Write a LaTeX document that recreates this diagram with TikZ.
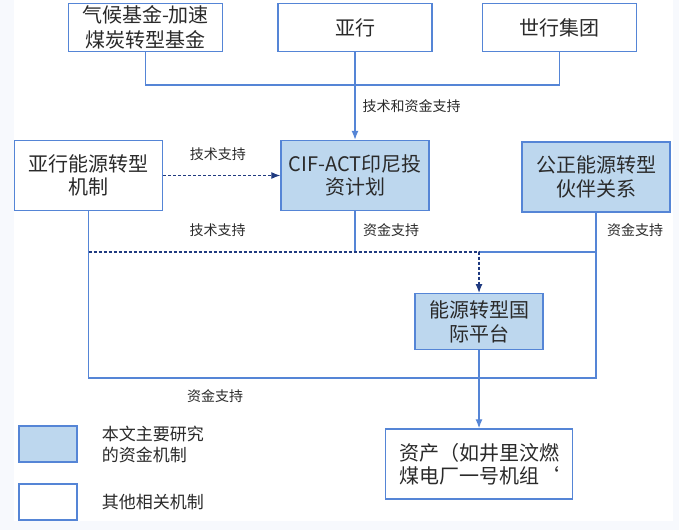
\documentclass[tikz,border=0pt]{standalone}
\usepackage{fontspec}
\setmainfont{Noto Sans CJK SC}
\usetikzlibrary{arrows.meta,positioning}

\definecolor{edgeblue}{HTML}{5585D6}
\definecolor{mainfill}{HTML}{BDD7EE}
\definecolor{techblue}{HTML}{1F3A80}
\definecolor{inktext}{HTML}{2A2A2A}
\definecolor{paper}{HTML}{F7F9FD}

\begin{document}
\begin{tikzpicture}[
            x = 1pt, y = -1pt,
            > = {Latex[length=9pt,width=7pt]}, % arrow head style
            font = \fontsize{20}{23.5}\selectfont,
            text = inktext,
            mech/.style = {draw=edgeblue, line width=1.4pt, fill=white, align=center,
                           inner sep=0pt, minimum width=148pt, minimum height=70pt},
            mainmech/.style = {mech, fill=mainfill},
            topmech/.style = {mech, minimum width=154pt, minimum height=48pt,
                              font=\fontsize{20}{25}\selectfont},
            flow/.style = {draw=edgeblue, line width=1.3pt},
            tech/.style = {draw=techblue, line width=1.2pt, dash pattern=on 3pt off 2pt},
            lbl/.style = {font=\fontsize{14}{16}\selectfont, inner sep=0pt},
            keytext/.style = {font=\fontsize{17}{21}\selectfont, align=left, inner sep=0pt}
        ]

	% page
	\useasboundingbox (0,0) rectangle (679,530);
	\fill[paper] (0,0) rectangle (679,530);
	\fill[white] (14,0) rectangle (673,521);

	% donors
	\node[topmech] (ccf) at (145.5,27.5) {气候基金-加速\\煤炭转型基金};
	\node[topmech] (adb) [right of=ccf, node distance=209.5pt] {亚行};
	\node[topmech] (wbg) [right of=adb, node distance=204.5pt] {世行集团};

	% mechanisms
	\node[mech] (etm) at (88.7,175.5) {亚行能源转型\\机制};
	\node[mainmech] (cif) [right of=etm, node distance=266.3pt] {CIF-ACT印尼投\\资计划};
	\node[mainmech] (jetp) at (596,177) {公正能源转型\\伙伴关系};
	\node[mainmech, minimum width=128pt, minimum height=56pt] (etp) at (479,321.7) {能源转型国\\际平台};
	\node[mech, minimum width=187pt] (asset) [below of=etp, node distance=142.3pt] {资产（如井里汶燃\\煤电厂一号机组\symbol{96}};

	% junctions
	\coordinate (bus) at (355,85);
	\coordinate (tjl) at (88.7,252);
	\coordinate (tjc) at (355,252);
	\coordinate (tjr) at (479,252);
	\coordinate (low) at (88.7,378);

	% donor support
	\draw[flow] (ccf.south) |- (bus) -| (wbg.south);
	\draw[flow,->] (adb.south) -- (cif.north)
		node[lbl, pos=0.616, anchor=west, xshift=7pt] {技术和资金支持};

	% funding lines
	\draw[flow] (etm.south) |- (low) -| (jetp.south);
	\draw[flow] (jetp.south) |- (tjr);
	\draw[flow] (cif.south) -- (tjc);
	\draw[flow,->] (etp.south) -- (asset.north);

	% technical support
	\draw[tech,->] (etm.east) -- (cif.west)
		node[lbl, midway, above=14pt, xshift=-4pt] {技术支持};
	\draw[tech,->] (tjl) -| (etp.north);

	% labels
	\node[lbl] (techlow) at (217.5,230) {技术支持};
	\node[lbl, anchor=west] (fundcif) at (363,230) {资金支持};
	\node[lbl, anchor=west] (fundjetp) at (607,230) {资金支持};
	\node[lbl] (fundlow) at (215,396) {资金支持};

	% key
	\node[mainmech, minimum width=58pt, minimum height=36pt] (keymain) at (48,444) {};
	\node[mech, minimum width=58pt, minimum height=36pt] (keyother) at (48,502) {};
	\node[keytext, right=24pt of keymain] (keymaintext) {本文主要研究\\的资金机制};
	\node[keytext, right=24pt of keyother] (keyothertext) {其他相关机制};

\end{tikzpicture}
\end{document}
